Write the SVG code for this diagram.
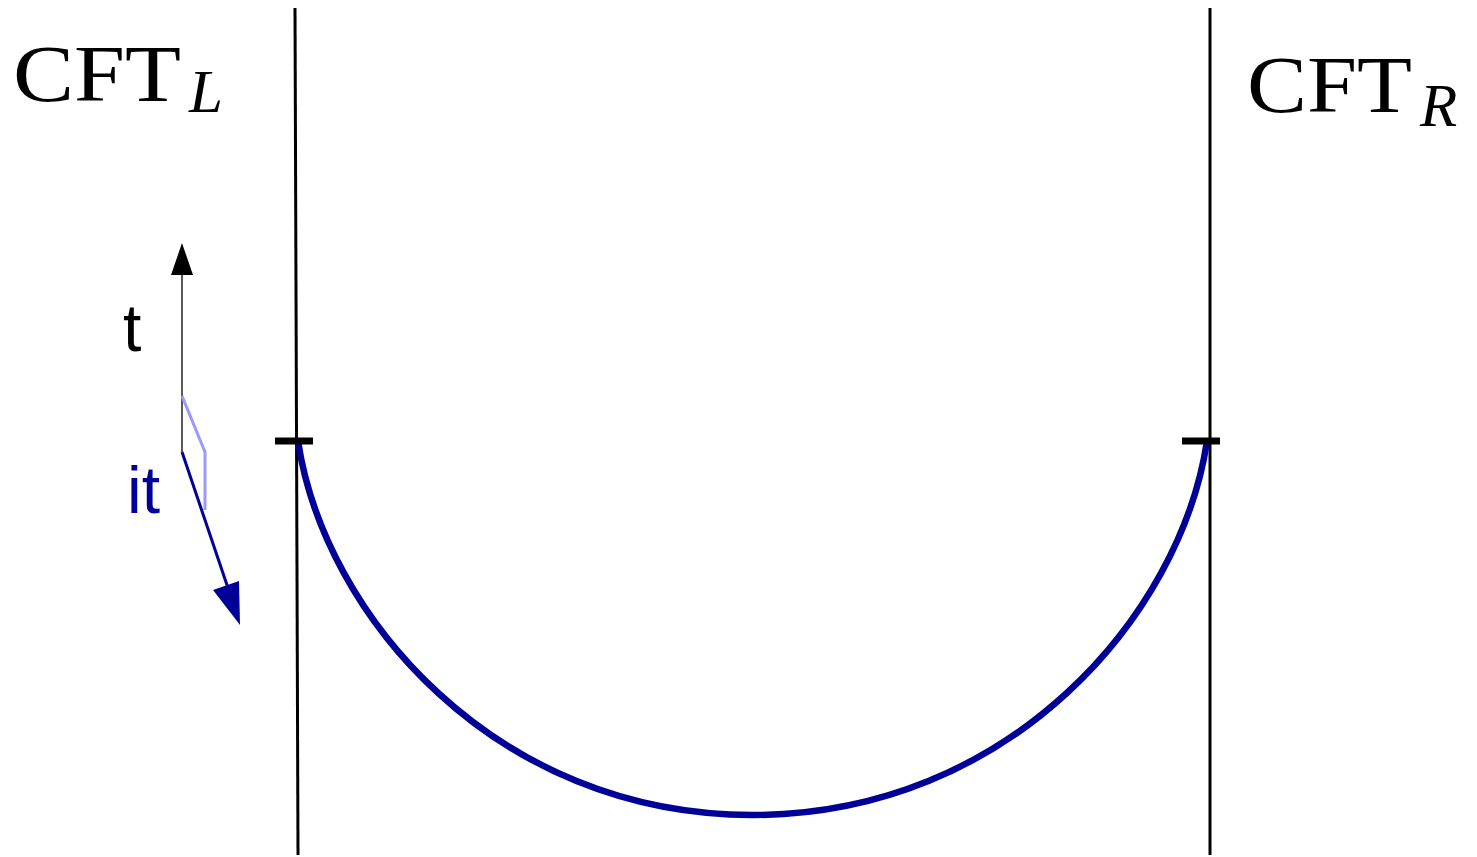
<svg xmlns="http://www.w3.org/2000/svg" width="1477" height="857" viewBox="0 0 1477 857">
<style>
.bd{stroke:#000;stroke-width:3;fill:none}
.tick{stroke:#000;stroke-width:7;fill:none}
.cft{font-family:"Liberation Serif","DejaVu Serif",serif;font-size:81px;fill:#000}
.sub{font-family:"Liberation Serif","DejaVu Serif",serif;font-style:italic;font-size:61px;fill:#000}
.lbl{font-family:"Liberation Sans",Arial,sans-serif;font-size:66px}
</style>
<g id="connectors">
<line class="bd" x1="295" y1="8" x2="298" y2="855"/>
<line class="bd" x1="1210" y1="8" x2="1210" y2="855"/>
<path id="arc" d="M298,441 C324,615 495,815 752.5,815 C1010,815 1181,615 1207,441" stroke="#000099" stroke-width="6.5" fill="none"/>
<line class="tick" x1="275" y1="441" x2="313" y2="441"/>
<line class="tick" x1="1182" y1="441" x2="1220" y2="441"/>
</g>
<g id="axes">
<line x1="182" y1="452" x2="182" y2="272" stroke="#222" stroke-width="1.5"/>
<path d="M182,243 L193,275 L171,275 Z" fill="#000"/>
<polyline points="182,396 205,452 205,510" stroke="#9999ff" stroke-width="3" fill="none"/>
<line x1="182" y1="452" x2="228" y2="588" stroke="#000099" stroke-width="3"/>
<path d="M240,625 L213,590 L239,581 Z" fill="#000099"/>
</g>
<g id="label-t"><text class="lbl" x="123" y="351" fill="#000">t</text></g>
<g id="label-it"><text class="lbl" x="127" y="513" fill="#000099">it</text></g>
<g id="label-cftl"><text class="cft" x="13" y="101" textLength="168" lengthAdjust="spacingAndGlyphs">CFT</text><text class="sub" x="189" y="112">L</text></g>
<g id="label-cftr"><text class="cft" x="1247" y="112" textLength="165" lengthAdjust="spacingAndGlyphs">CFT</text><text class="sub" x="1420" y="126">R</text></g>
</svg>
